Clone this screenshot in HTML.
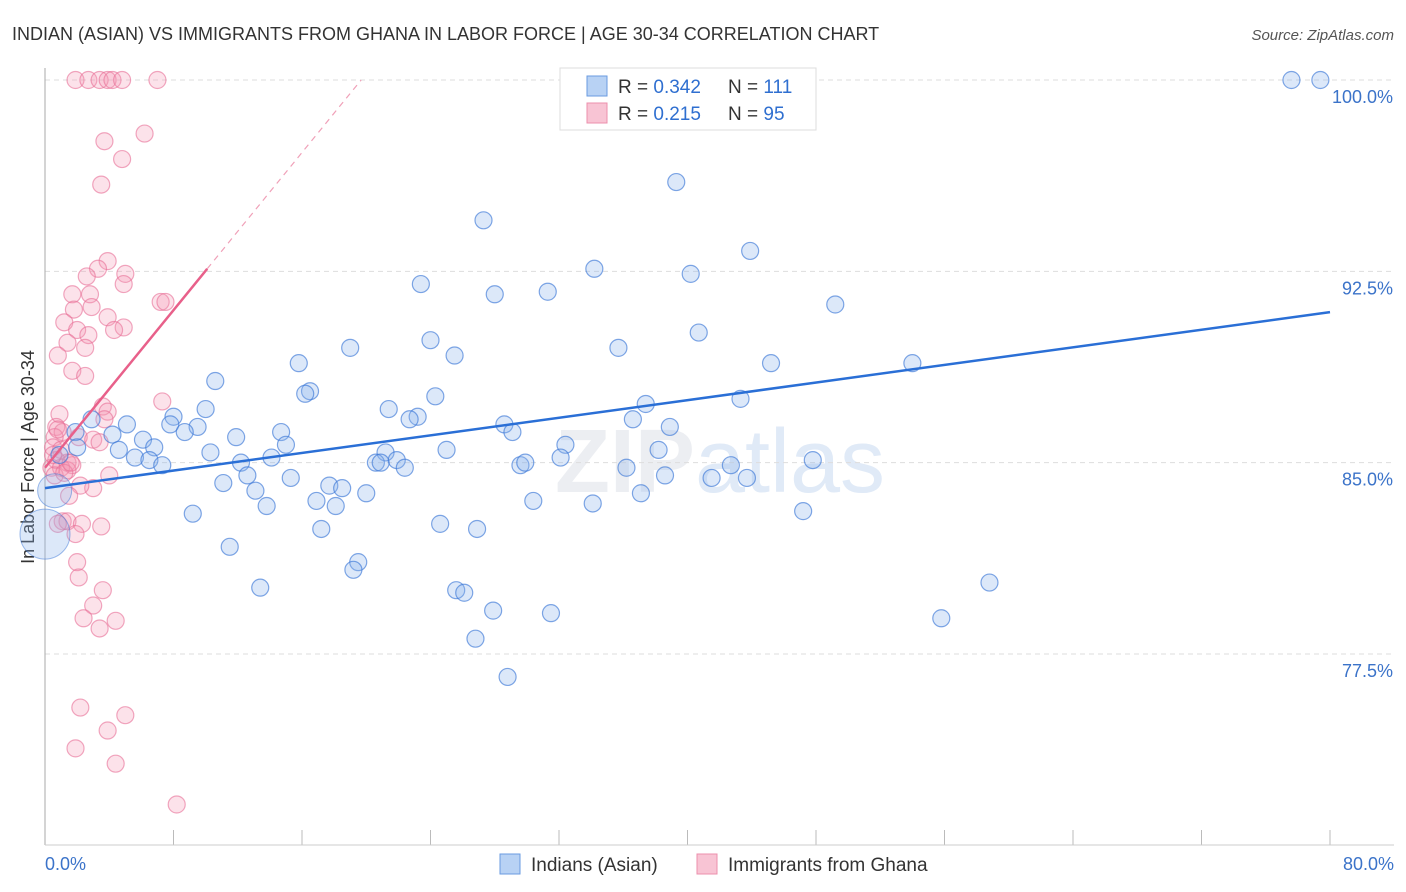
<!DOCTYPE html>
<html><head><meta charset="utf-8"><style>
body{margin:0;background:#fff;font-family:"Liberation Sans",sans-serif;}
svg{display:block}
</style></head><body>
<svg id="chart" width="1406" height="892">
<text x="12" y="40" font-size="18" fill="#333">INDIAN (ASIAN) VS IMMIGRANTS FROM GHANA IN LABOR FORCE | AGE 30-34 CORRELATION CHART</text>
<text x="1394" y="40" font-size="15" fill="#555" font-style="italic" text-anchor="end">Source: ZipAtlas.com</text>
<text x="720" y="492" font-size="90" fill="#eceef2" text-anchor="middle" font-weight="bold">ZIP<tspan font-weight="normal" fill="#e0eaf7">atlas</tspan></text>
<g id="grid"></g>
<line x1="45" y1="68" x2="45" y2="845" stroke="#aaa"/>
<line x1="45" y1="845" x2="1394" y2="845" stroke="#ccc"/>
<text transform="translate(34,457) rotate(-90)" font-size="18" fill="#333" text-anchor="middle">In Labor Force | Age 30-34</text>
<text x="45" y="870" font-size="18" fill="#3b73c9">0.0%</text>
<text x="1394" y="870" font-size="18" fill="#3b73c9" text-anchor="end">80.0%</text>
<g id="pts"></g>
<g id="lines"></g>
<g>
<rect x="560" y="68" width="256" height="62" fill="#fff" stroke="#ddd"/>
<rect x="587" y="76" width="20" height="20" fill="#b8d2f4" stroke="#6a9be0"/>
<rect x="587" y="103" width="20" height="20" fill="#f8c4d4" stroke="#ec8fac"/>
<text x="618" y="93" font-size="19" fill="#333">R = <tspan fill="#2f6fd0">0.342</tspan><tspan x="728">N = </tspan><tspan fill="#2f6fd0">111</tspan></text>
<text x="618" y="120" font-size="19" fill="#333">R = <tspan fill="#2f6fd0"> 0.215</tspan><tspan x="728">N = </tspan><tspan fill="#2f6fd0">95</tspan></text>
</g>
<g>
<rect x="500" y="854" width="20" height="20" fill="#b8d2f4" stroke="#6a9be0"/>
<text x="531" y="871" font-size="19" fill="#333">Indians (Asian)</text>
<rect x="697" y="854" width="20" height="20" fill="#f8c4d4" stroke="#ec8fac"/>
<text x="728" y="871" font-size="19" fill="#333">Immigrants from Ghana</text>
</g>
</svg>
<script>
const yTicks=[100,92.5,85,77.5];
const xTicks=[8,16,24,32,40,48,56,64,72,80];
const blueX=[39.3,27.3,43.9,34.2,40.2,23.4,28.0,31.3,49.2,40.7,24.0,19.0,25.5,35.7,15.8,45.2,54.0,10.6,16.5,16.2,24.3,43.3,37.4,10.0,21.4,23.2,22.7,36.6,8.0,7.8,2.9,28.6,9.5,8.7,29.1,38.9,14.7,5.1,11.9,4.2,6.1,6.8,15.0,1.9,2.0,4.6,25.0,32.4,38.2,10.3,5.6,6.5,7.3,14.1,12.2,21.2,20.6,20.9,21.9,22.4,12.6,29.6,29.9,32.1,36.2,42.7,47.8,15.3,11.1,38.6,41.5,43.7,17.7,18.5,20.0,13.1,16.9,18.1,13.8,30.4,37.1,34.1,9.2,47.2,24.6,26.9,17.2,11.5,19.5,19.2,58.8,13.4,25.6,26.1,27.9,31.5,55.8,26.8,28.8,46.8,77.6,79.4,0.9];
const blueY=[96.0,94.5,93.3,92.6,92.4,92.0,91.6,91.7,91.2,90.1,89.8,89.5,89.2,89.5,88.9,88.9,88.9,88.2,87.8,87.7,87.6,87.5,87.3,87.1,87.1,86.8,86.7,86.7,86.8,86.5,86.7,86.5,86.4,86.2,86.2,86.4,86.2,86.5,86.0,86.1,85.9,85.6,85.7,86.2,85.6,85.5,85.5,85.7,85.5,85.4,85.2,85.1,84.9,85.2,85.0,85.4,85.0,85.0,85.1,84.8,84.5,84.9,85.0,85.2,84.8,84.9,85.1,84.4,84.2,84.5,84.4,84.4,84.1,84.0,83.8,83.9,83.5,83.3,83.3,83.5,83.8,83.4,83.0,83.1,82.6,82.4,82.4,81.7,81.1,80.8,80.3,80.1,80.0,79.9,79.2,79.1,78.9,78.1,76.6,100,100,100,85.3];
const blueBigX=[0.6,0.0];
const blueBigY=[83.9,82.2];
const pinkX=[1.9,2.7,3.4,3.9,4.2,4.8,7.0,6.2,3.7,4.8,3.5,3.9,3.3,5.0,4.9,2.6,1.7,2.8,1.8,2.9,7.2,7.5,3.9,1.2,2.0,4.9,4.3,2.7,1.4,2.5,0.8,1.7,2.5,7.3,3.6,3.9,0.9,3.7,0.7,1.1,0.6,2.1,3.0,3.4,0.5,1.0,0.7,1.4,1.7,0.4,1.0,0.6,4.0,1.4,3.0,2.2,1.5,1.1,1.4,0.8,2.3,3.5,1.9,2.0,2.1,3.6,3.0,2.4,4.4,3.4,2.2,5.0,3.9,1.9,4.4,8.2,0.5,1.2,0.8,1.6];
const pinkY=[100,100,100,100,100,100,100,97.9,97.6,96.9,95.9,92.9,92.6,92.4,92.0,92.3,91.6,91.6,91.0,91.1,91.3,91.3,90.7,90.5,90.2,90.3,90.2,90.0,89.7,89.5,89.2,88.6,88.4,87.4,87.2,87.0,86.9,86.7,86.4,86.2,86.0,86.0,85.9,85.8,85.6,85.5,85.1,85.0,84.9,84.8,84.8,84.5,84.5,84.7,84.0,84.1,83.7,82.7,82.7,82.6,82.6,82.5,82.2,81.1,80.5,80.0,79.4,78.9,78.8,78.5,75.4,75.1,74.5,73.8,73.2,71.6,85.3,84.6,86.3,85.0];
const blueTrend=[84.0,90.9];
const pinkTrend=[84.8,92.6];
const pinkSolidEnd=10.1;

const X=v=>45+v/80*1285;
const Y=v=>80+(100-v)*25.51;
const NS='http://www.w3.org/2000/svg';
function mk(tag,attrs,parent){const e=document.createElementNS(NS,tag);for(const k in attrs)e.setAttribute(k,attrs[k]);parent.appendChild(e);return e;}
const grid=document.getElementById('grid');
yTicks.forEach(t=>{
 const l=mk('line',{x1:45,x2:1394,y1:Y(t),y2:Y(t),stroke:'#ddd','stroke-dasharray':'5,4'},grid);
 
 
 const tx=mk('text',{x:1393,y:Y(t)+23,'font-size':18,fill:'#3b73c9','text-anchor':'end'},grid);
 tx.textContent=t.toFixed(1)+'%';
 
 
});
xTicks.forEach(t=>{
 const l=mk('line',{x1:X(t),x2:X(t),y1:830,y2:845,stroke:'#bbb'},grid);
 
 
});
const pts=document.getElementById('pts');
pinkX.forEach((v,i)=>{
 const c=mk('circle',{cx:X(v),cy:Y(pinkY[i]),r:8.5,fill:'rgba(244,150,180,0.28)',stroke:'rgba(232,110,150,0.6)','stroke-width':1.2},pts);
 
 
});
blueX.forEach((v,i)=>{
 const c=mk('circle',{cx:X(v),cy:Y(blueY[i]),r:8.5,fill:'rgba(140,180,235,0.3)',stroke:'rgba(60,120,215,0.65)','stroke-width':1.2},pts);
 
 
});
blueBigX.forEach((v,i)=>{
 const c=mk('circle',{cx:X(v),cy:Y(blueBigY[i]),r:i?25:17,fill:'rgba(140,180,235,0.3)',stroke:'rgba(60,120,215,0.5)','stroke-width':1},pts);
 
 
});
const lines=document.getElementById('lines');
const bl=mk('line',{x1:X(0),y1:Y(blueTrend[0]),x2:X(80),y2:Y(blueTrend[1]),stroke:'#2a6fd6','stroke-width':2.5},lines);


const ps=(pinkTrend[1]-pinkTrend[0])/pinkSolidEnd;
const pl=mk('line',{x1:X(0),y1:Y(pinkTrend[0]),x2:X(pinkSolidEnd),y2:Y(pinkTrend[1]),stroke:'#e8608a','stroke-width':2.5},lines);


const xEnd=(100-pinkTrend[0])/ps;
const pd=mk('line',{x1:X(pinkSolidEnd),y1:Y(pinkTrend[1]),x2:X(xEnd),y2:Y(100),stroke:'#f0a0b8','stroke-width':1.2,'stroke-dasharray':'6,5'},lines);


</script>
</body></html>
